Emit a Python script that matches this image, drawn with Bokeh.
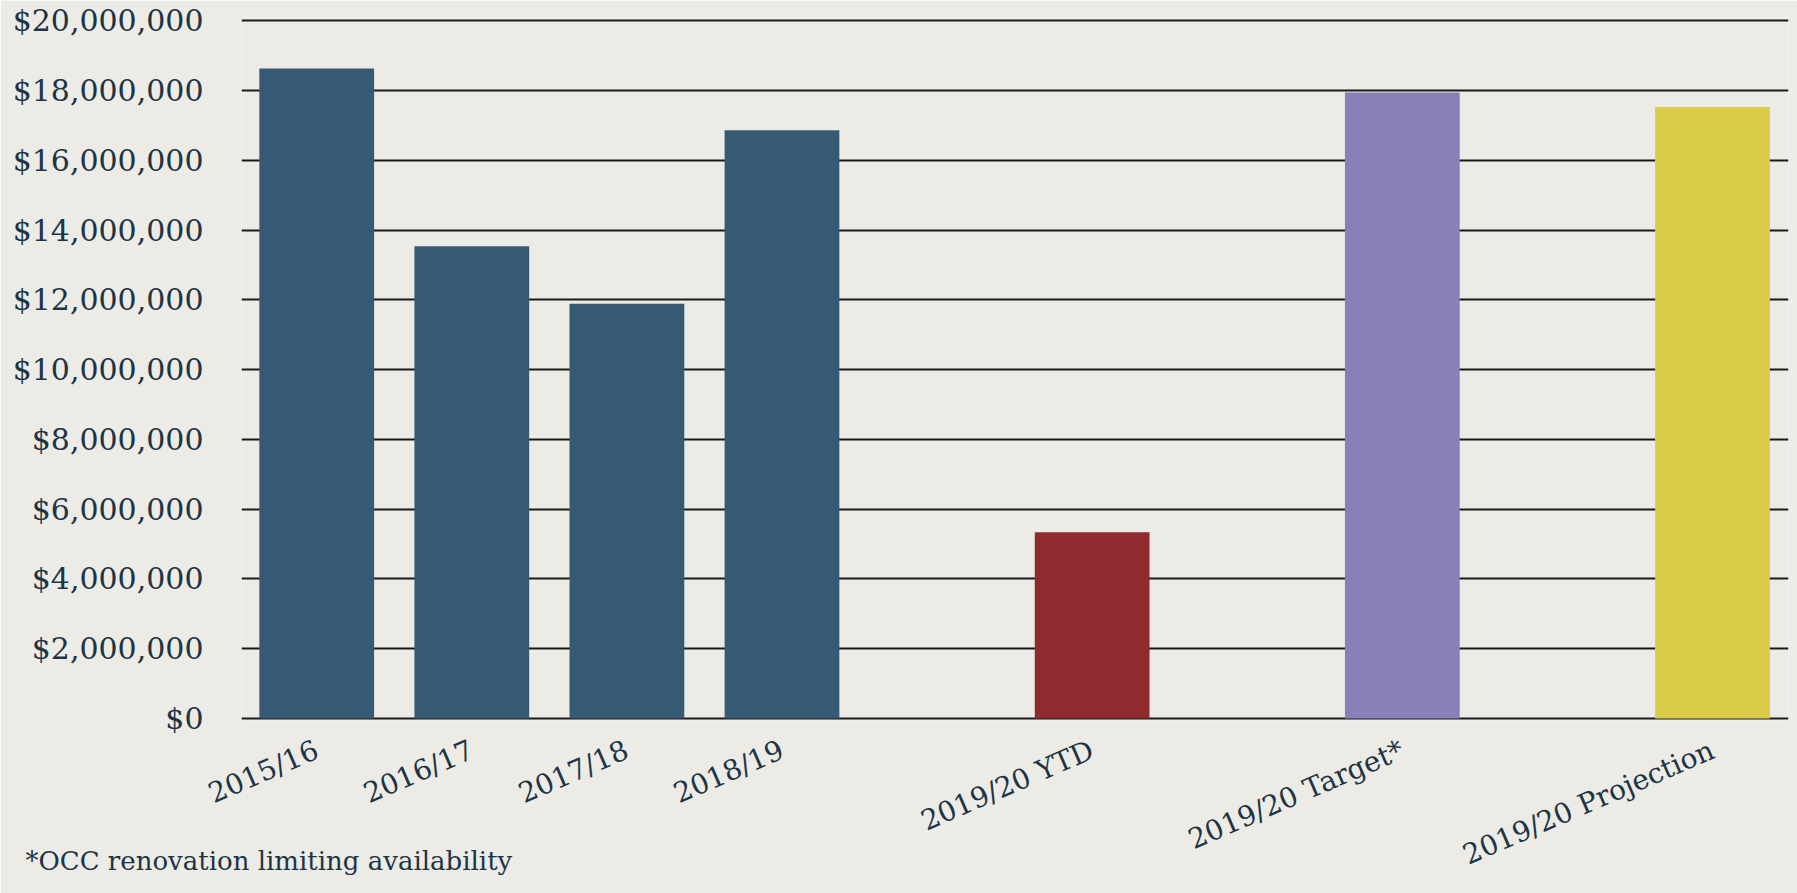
from bokeh.plotting import figure
from bokeh.models import NumeralTickFormatter, FixedTicker, Title, Range1d
from bokeh.embed import file_html
from bokeh.resources import INLINE

# ---- data ----
categories = ["2015/16", "2016/17", "2017/18", "2018/19",
              "2019/20 YTD", "2019/20 Target*", "2019/20 Projection"]
positions = [0, 1, 2, 3, 5, 7, 9]
values = [18_640_000, 13_540_000, 11_890_000, 16_870_000,
          5_340_000, 17_950_000, 17_530_000]
bar_colors = ["#365a73", "#365a73", "#365a73", "#365a73",
              "#8f2b2f", "#8a80b8", "#d9cc48"]
y_ticks = [0, 2_000_000, 4_000_000, 6_000_000, 8_000_000, 10_000_000,
           12_000_000, 14_000_000, 16_000_000, 18_000_000, 20_000_000]
footnote = "*OCC renovation limiting availability"

BG = "#ecebe6"
TXT = "#1d3444"
FONT = "DejaVu Serif"

p = figure(width=1797, height=893, output_backend="svg", toolbar_location=None,
           x_range=Range1d(-0.485, 9.49), y_range=Range1d(-60_000, 20_100_000),
           min_border_left=241, min_border_right=9, min_border_top=17,
           min_border_bottom=173)
p.background_fill_color = BG
p.border_fill_color = BG
p.outline_line_color = None

p.vbar(x=positions, top=values, width=0.74, bottom=0, color=bar_colors, line_color=None)

# y axis
p.yaxis.ticker = FixedTicker(ticks=y_ticks)
p.yaxis.formatter = NumeralTickFormatter(format="$0,0")
p.yaxis.axis_line_color = None
p.yaxis.major_tick_line_color = None
p.yaxis.minor_tick_line_color = None
p.yaxis.major_tick_out = 0
p.yaxis.major_label_standoff = 38
p.yaxis.major_label_text_font = FONT
p.yaxis.major_label_text_font_size = "30px"
p.yaxis.major_label_text_color = TXT

# x axis
p.xaxis.ticker = FixedTicker(ticks=positions)
p.xaxis.major_label_overrides = {pos: c for pos, c in zip(positions, categories)}
p.xaxis.axis_line_color = None
p.xaxis.major_tick_line_color = None
p.xaxis.minor_tick_line_color = None
p.xaxis.major_tick_out = 0
p.xaxis.major_label_standoff = 28
p.xaxis.major_label_orientation = 0.41
p.xaxis.major_label_text_font = FONT
p.xaxis.major_label_text_font_size = "28px"
p.xaxis.major_label_text_color = TXT

p.xgrid.grid_line_color = None
p.ygrid.ticker = FixedTicker(ticks=y_ticks)
p.ygrid.grid_line_color = "#1a1a1a"
p.ygrid.grid_line_width = 2

p.add_layout(Title(text=footnote, align="left", vertical_align="top", offset=-216,
                   standoff=-88, text_font=FONT, text_font_size="26px",
                   text_font_style="normal", text_color=TXT), "below")

open("out.html", "w").write(file_html(p, INLINE))
